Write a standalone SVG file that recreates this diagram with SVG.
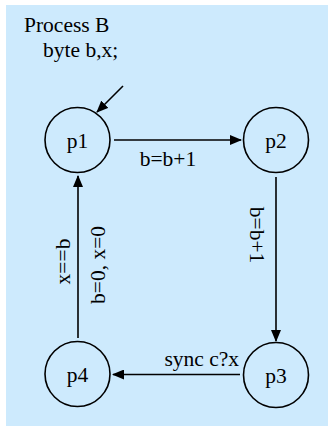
<svg xmlns="http://www.w3.org/2000/svg" width="328" height="426" viewBox="0 0 328 426">
<style>
text{font-family:"Liberation Serif","Times New Roman",serif;font-size:21.5px;fill:#000}
.st{fill:none;stroke:#000;stroke-width:1.6}
.e{fill:none;stroke:#000;stroke-width:1.6}
</style>
<defs>
<marker id="ah" markerWidth="12" markerHeight="10" refX="11" refY="5" orient="auto" markerUnits="userSpaceOnUse">
<path d="M0,0 L12,5 L0,10 Z" fill="#000"/>
</marker>
</defs>
<rect x="6" y="5" width="322" height="421" fill="#cdeafd"/>
<g id="title">
<text x="24" y="32">Process B</text>
<text x="43" y="57">byte b,x;</text>
</g>
<g id="p1"><circle class="st" cx="77.5" cy="140" r="32.5"/><text x="77.5" y="148" text-anchor="middle">p1</text></g>
<g id="p2"><circle class="st" cx="276" cy="140" r="32.5"/><text x="276" y="148" text-anchor="middle">p2</text></g>
<g id="p3"><circle class="st" cx="276" cy="375" r="32.5"/><text x="276" y="383" text-anchor="middle">p3</text></g>
<g id="p4"><circle class="st" cx="77.5" cy="374" r="32.5"/><text x="77.5" y="382" text-anchor="middle">p4</text></g>
<g id="connectors">
<line class="e" x1="123" y1="86" x2="97" y2="112" marker-end="url(#ah)"/>
<line class="e" x1="114" y1="140" x2="241" y2="140" marker-end="url(#ah)"/>
<line class="e" x1="276" y1="177" x2="276" y2="341" marker-end="url(#ah)"/>
<line class="e" x1="240" y1="374.5" x2="113" y2="374.5" marker-end="url(#ah)"/>
<line class="e" x1="78" y1="338" x2="78" y2="176" marker-end="url(#ah)"/>
<text x="168" y="166" text-anchor="middle">b=b+1</text>
<text transform="translate(250,235) rotate(90)" text-anchor="middle">b=b+1</text>
<text x="239" y="366" text-anchor="end">sync c?x</text>
<text transform="translate(70,261.5) rotate(-90)" text-anchor="middle">x==b</text>
<text transform="translate(105,265) rotate(-90)" text-anchor="middle">b=0, x=0</text>
</g>
</svg>
